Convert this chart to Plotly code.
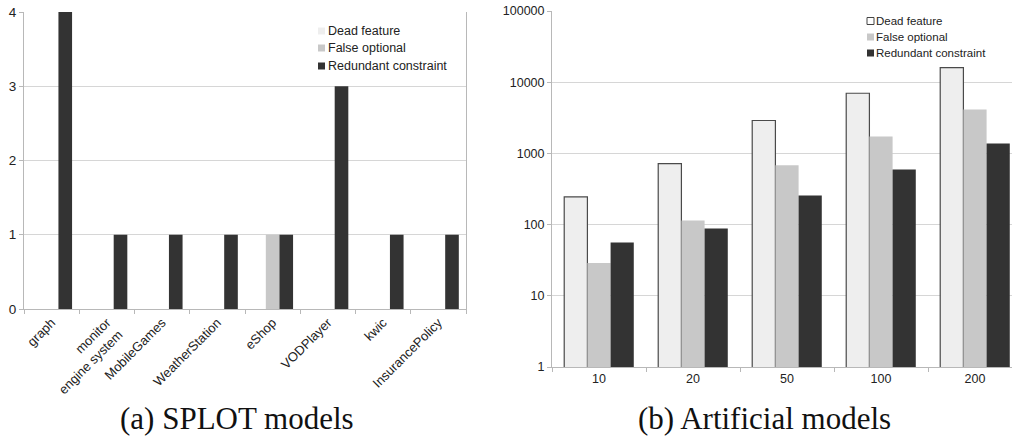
import plotly.graph_objects as go

# ---------------- data ----------------
series_names = ["Dead feature", "False optional", "Redundant constraint"]

splot_models = ["graph", "monitor<br>engine system", "MobileGames", "WeatherStation",
                "eShop", "VODPlayer", "kwic", "InsurancePolicy"]
splot_dead = [0, 0, 0, 0, 0, 0, 0, 0]
splot_false_optional = [0, 0, 0, 0, 1, 0, 0, 0]
splot_redundant = [4, 1, 1, 1, 1, 3, 1, 1]

artificial_sizes = ["10", "20", "50", "100", "200"]
art_dead = [245, 720, 2900, 7000, 16000]
art_false_optional = [29, 114, 680, 1730, 4150]
art_redundant = [56, 88, 256, 595, 1380]

captions = ["(a) SPLOT models", "(b) Artificial models"]

# ---------------- styling ----------------
W, H = 1012, 436
C_DEAD = "#eeeeee"
C_FALSE = "#c8c8c8"
C_RED = "#333333"
GRID = "#d6d6d6"
AXIS = "#b8b8b8"
FONT = "Liberation Sans, Arial, sans-serif"


def px_x(x):
    return x / W


def px_y(y):
    return (H - y) / H


fig = go.Figure()

# left chart (SPLOT)
for name, vals, col in zip(series_names,
                           [splot_dead, splot_false_optional, splot_redundant],
                           [C_DEAD, C_FALSE, C_RED]):
    fig.add_trace(go.Bar(x=splot_models, y=vals, name=name, marker_color=col,
                         marker_line_width=0, xaxis="x", yaxis="y", showlegend=False))

# right chart (Artificial)
for name, vals, col, lc, lw in zip(series_names,
                                   [art_dead, art_false_optional, art_redundant],
                                   [C_DEAD, C_FALSE, C_RED],
                                   ["#4a4a4a", C_FALSE, C_RED],
                                   [1.2, 0, 0]):
    fig.add_trace(go.Bar(x=artificial_sizes, y=vals, name=name, marker_color=col,
                         marker_line_color=lc, marker_line_width=lw,
                         xaxis="x2", yaxis="y2", showlegend=False))

fig.update_layout(
    width=W, height=H,
    margin=dict(l=0, r=0, t=0, b=0, autoexpand=False),
    paper_bgcolor="white", plot_bgcolor="white",
    barmode="group",
    bargap=0.26, bargroupgap=0,
    xaxis=dict(domain=[px_x(24), px_x(466)], anchor="y", automargin=False,
               showline=True, linecolor=AXIS, linewidth=1,
               ticks="outside", tickson="boundaries", ticklen=4, tickcolor=AXIS,
               tickangle=-45, tickfont=dict(family=FONT, size=13, color="#222222"),
               showgrid=False, range=[-0.5, 7.5]),
    yaxis=dict(domain=[px_y(309), px_y(12)], anchor="x", automargin=False,
               range=[0, 4], dtick=1, showline=True, linecolor=AXIS, linewidth=1,
               mirror=True, ticks="outside", ticklen=4, tickcolor=AXIS,
               showgrid=True, gridcolor=GRID, gridwidth=1, zeroline=False,
               tickfont=dict(family=FONT, size=13.5, color="#222222")),
    xaxis2=dict(domain=[px_x(552), 1.0], anchor="y2", automargin=False,
                showline=True, linecolor=AXIS, linewidth=1,
                ticks="outside", tickson="boundaries", ticklen=4, tickcolor=AXIS,
                tickfont=dict(family=FONT, size=12.5, color="#222222"), showgrid=False,
                range=[-0.5, -0.5 + 460 / 94]),
    yaxis2=dict(domain=[px_y(367), px_y(11)], anchor="x2", type="log", automargin=False,
                range=[0, 5], dtick=1, showline=True, linecolor=AXIS, linewidth=1,
                ticks="outside", ticklen=4, tickcolor=AXIS,
                showgrid=True, gridcolor=GRID, gridwidth=1, zeroline=False,
                tickformat="d",
                tickfont=dict(family=FONT, size=12.5, color="#222222")),
)

# ---------------- custom legends ----------------
shapes = []
annotations = []

# left legend
left_rows = [31, 48, 66]
left_cols = [C_DEAD, C_FALSE, C_RED]
for name, yc, col in zip(series_names, left_rows, left_cols):
    shapes.append(dict(type="rect", xref="paper", yref="paper",
                       x0=px_x(318), x1=px_x(325), y0=px_y(yc + 3.5), y1=px_y(yc - 3.5),
                       fillcolor=col, line=dict(width=0)))
    annotations.append(dict(text=name, xref="paper", yref="paper",
                            x=px_x(326), y=px_y(yc), xanchor="left", yanchor="middle",
                            showarrow=False,
                            font=dict(family=FONT, size=12.5, color="#222222")))

# right legend
right_rows = [21, 37, 53]
right_fill = ["white", C_FALSE, C_RED]
right_line = ["#444444", C_FALSE, C_RED]
for name, yc, col, lc in zip(series_names, right_rows, right_fill, right_line):
    shapes.append(dict(type="rect", xref="paper", yref="paper",
                       x0=px_x(867), x1=px_x(874), y0=px_y(yc + 3.5), y1=px_y(yc - 3.5),
                       fillcolor=col, line=dict(width=1 if name == series_names[0] else 0,
                                                color=lc)))
    annotations.append(dict(text=name, xref="paper", yref="paper",
                            x=px_x(874), y=px_y(yc), xanchor="left", yanchor="middle",
                            showarrow=False,
                            font=dict(family=FONT, size=11.5, color="#222222")))

# captions
for cap, xc in zip(captions, [237, 764]):
    annotations.append(dict(text=cap, xref="paper", yref="paper",
                            x=px_x(xc), y=px_y(418), xanchor="center", yanchor="middle",
                            showarrow=False,
                            font=dict(family="Liberation Serif, Times New Roman, serif",
                                      size=31, color="#111111")))

fig.update_layout(shapes=shapes, annotations=annotations)

fig.write_html("out.html",
               config={"displayModeBar": False},
               post_script="document.body.style.margin='0';document.body.style.overflow='hidden';")
